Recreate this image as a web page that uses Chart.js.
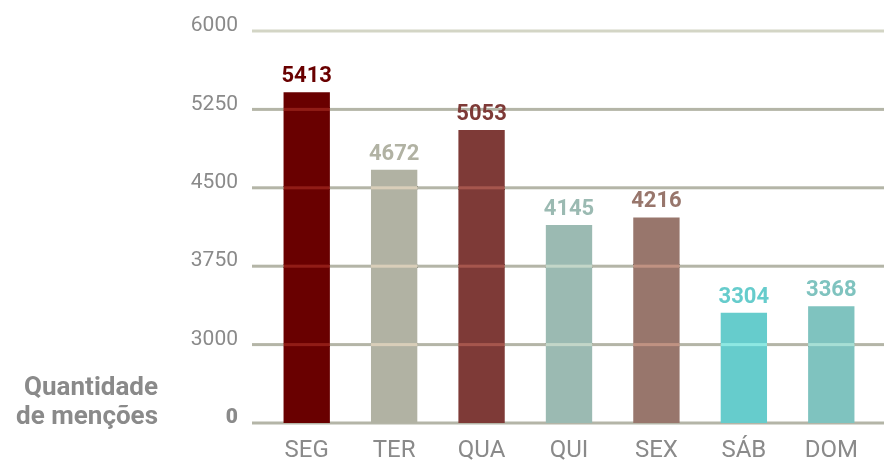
<!DOCTYPE html>
<html>
<head>
<meta charset="utf-8">
<script src="https://cdn.jsdelivr.net/npm/chart.js@4"></script>
<style>
  body { margin: 0; background: #fff; }
  #caixa { width: 884px; height: 467px; position: relative; }
</style>
</head>
<body>
<div id="caixa"><canvas id="mencoesChart"></canvas></div>
<script>
// Dados do gráfico
const dias = ['SEG', 'TER', 'QUA', 'QUI', 'SEX', 'SÁB', 'DOM'];
const mencoes = [5413, 4672, 5053, 4145, 4216, 3304, 3368];
const coresDias = ['#690000', '#b1b2a3', '#7e3a37', '#9bbab2', '#98766c', '#66cccc', '#7fc3bf'];
// eixo cortado: a base (2250) aparece como "0"
const eixoMin = 2250;
const eixoMax = 6000;
const eixoPasso = 750;
const tituloEixo = ['Quantidade', 'de menções'];

const cinzaTexto = '#8a8a8a';

// Linhas de grelha, valores por cima das barras e título do eixo
const desenhoExtra = {
    id: 'desenhoExtra',
    beforeDatasetsDraw(chart) {
        const ctx = chart.ctx;
        const y = chart.scales.y;
        ctx.save();
        y.ticks.forEach(t => {
            const py = y.getPixelForValue(t.value);
            ctx.fillStyle = t.value === eixoMax ? '#d3d5c5' : '#b4b5a7';
            ctx.fillRect(chart.chartArea.left - 11, py - 1.5, chart.width, 3);
        });
        ctx.restore();
    },
    afterDatasetsDraw(chart) {
        const ctx = chart.ctx;
        const y = chart.scales.y;
        const barras = chart.getDatasetMeta(0).data;
        ctx.save();
        // reflexo da grelha dentro das barras
        ctx.globalCompositeOperation = 'lighter';
        ctx.fillStyle = 'rgb(40,28,22)';
        barras.forEach(b => {
            y.ticks.forEach(t => {
                const py = y.getPixelForValue(t.value);
                if (t.value > eixoMin && py > b.y) {
                    ctx.fillRect(b.x - b.width / 2, py - 1.5, b.width, 3);
                }
            });
        });
        ctx.globalCompositeOperation = 'source-over';
        // valores
        ctx.font = 'bold 22px Roboto, sans-serif';
        ctx.textAlign = 'center';
        ctx.textBaseline = 'alphabetic';
        barras.forEach((b, i) => {
            ctx.fillStyle = coresDias[i];
            ctx.fillText(String(mencoes[i]), b.x, b.y - 10);
        });
        ctx.restore();
    },
    afterDraw(chart) {
        const ctx = chart.ctx;
        ctx.save();
        ctx.font = 'bold 26px Roboto, sans-serif';
        ctx.fillStyle = cinzaTexto;
        ctx.textAlign = 'right';
        ctx.textBaseline = 'alphabetic';
        ctx.fillText(tituloEixo[0], 158, 395);
        ctx.fillText(tituloEixo[1], 158, 424);
        ctx.restore();
    }
};

document.addEventListener("DOMContentLoaded", function () {
    const grafico = document.getElementById('mencoesChart');
    new Chart(grafico, {
        type: 'bar',
        data: {
            labels: dias,
            datasets: [{
                data: mencoes,
                backgroundColor: coresDias,
                borderWidth: 0,
                categoryPercentage: 1,
                barPercentage: 0.53
            }]
        },
        options: {
            responsive: true,
            maintainAspectRatio: false,
            animation: false,
            layout: { padding: { top: 31, right: 9, left: 0, bottom: 0 } },
            plugins: {
                legend: { display: false },
                tooltip: { enabled: false }
            },
            scales: {
                x: {
                    grid: { display: false, drawTicks: false },
                    border: { display: false },
                    ticks: {
                        color: cinzaTexto,
                        font: { family: 'Roboto', size: 24 },
                        padding: 14,
                        maxRotation: 0
                    },
                    afterFit(scale) { scale.height = 44; }
                },
                y: {
                    min: eixoMin,
                    max: eixoMax,
                    // tickLength só serve de afastamento dos rótulos
                    grid: { display: false, drawTicks: true, tickLength: 25 },
                    border: { display: false },
                    ticks: {
                        stepSize: eixoPasso,
                        padding: 0,
                        labelOffset: -5,
                        color: cinzaTexto,
                        font: ctx => ({
                            family: 'Roboto',
                            size: 21,
                            weight: ctx.tick && ctx.tick.value === eixoMin ? '900' : 'normal'
                        }),
                        callback: v => v === eixoMin ? '0' : String(v)
                    },
                    afterFit(scale) { scale.width = 263; }
                }
            }
        },
        plugins: [desenhoExtra]
    });
});
</script>
</body>
</html>
